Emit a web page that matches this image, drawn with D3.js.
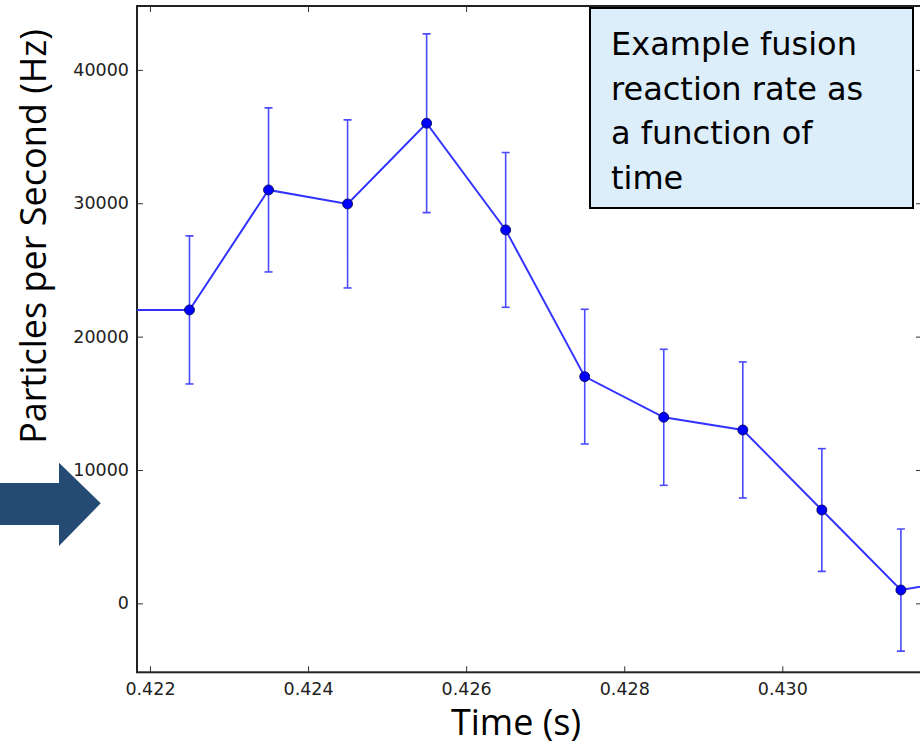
<!DOCTYPE html>
<html>
<head>
<meta charset="utf-8">
<script src="https://cdn.jsdelivr.net/npm/d3@7"></script>
<style>
  html, body { margin: 0; padding: 0; background: #fff; overflow: hidden; }
  svg { display: block; }
</style>
</head>
<body>
<svg id="chart" width="920" height="745"></svg>
<script>
// ---- data ----
const times  = [0.4215, 0.4225, 0.4235, 0.4245, 0.4255, 0.4265, 0.4275, 0.4285, 0.4295, 0.4305, 0.4315, 0.4325];
const rates  = [22000, 22000, 31000, 29950, 36000, 28000, 17000, 13950, 13000, 7000, 1000, 2000];
const errors = [5600, 5550, 6150, 6300, 6700, 5800, 5050, 5100, 5100, 4600, 4580, 4600];
const xTicks = [0.422, 0.424, 0.426, 0.428, 0.430];
const yTicks = [0, 10000, 20000, 30000, 40000];
const xDomain = [0.421836, 0.431767];
const yDomain = [-5170, 44790];
const boxLines = ["Example fusion", "reaction rate as", "a function of", "time"];
const xLabel = "Time (s)";
const yLabel = "Particles per Second (Hz)";

// ---- layout ----
const pLeft = 137, pRight = 922, pTop = 6, pBottom = 672.3;
const svg = d3.select("#chart");

const x = d3.scaleLinear().domain(xDomain).range([pLeft, pRight]);
const y = d3.scaleLinear().domain(yDomain).range([pBottom, pTop]);

// clip
svg.append("defs").append("clipPath").attr("id", "plotclip")
  .append("rect").attr("x", pLeft).attr("y", pTop).attr("width", pRight - pLeft).attr("height", pBottom - pTop);

const tickFont = "'DejaVu Sans', sans-serif";

// axes (inward ticks, matplotlib classic style)
const gx = svg.append("g").attr("transform", `translate(0,${pBottom})`)
  .call(d3.axisBottom(x).tickValues(xTicks).tickFormat(d3.format(".3f"))
        .tickSizeInner(-6).tickSizeOuter(0).tickPadding(10));
const gxTop = svg.append("g").attr("transform", `translate(0,${pTop})`)
  .call(d3.axisTop(x).tickValues(xTicks).tickFormat("")
        .tickSizeInner(-6).tickSizeOuter(0));
const gy = svg.append("g").attr("transform", `translate(${pLeft},0)`)
  .call(d3.axisLeft(y).tickValues(yTicks).tickFormat(d3.format("d"))
        .tickSizeInner(-6).tickSizeOuter(0).tickPadding(8));
const gyR = svg.append("g").attr("transform", `translate(${pRight},0)`)
  .call(d3.axisRight(y).tickValues(yTicks).tickFormat("")
        .tickSizeInner(-6).tickSizeOuter(0));

[gx, gxTop, gy, gyR].forEach(g => {
  g.select(".domain").remove();
  g.selectAll(".tick line").attr("stroke", "#333").attr("stroke-width", 1);
  g.selectAll(".tick text").attr("fill", "#222")
    .style("font-family", tickFont).style("font-size", "17.5px");
});

// frame
svg.append("rect").attr("x", pLeft).attr("y", pTop)
  .attr("width", pRight - pLeft).attr("height", pBottom - pTop)
  .attr("fill", "none").attr("stroke", "#222").attr("stroke-width", 2);

// data layer
const plot = svg.append("g").attr("clip-path", "url(#plotclip)");
const pts = times.map((t, i) => ({ t, v: rates[i], e: errors[i] }));

const eb = plot.append("g").attr("stroke", "#4a4aff").attr("stroke-width", 1.6).attr("fill", "none");
pts.forEach(d => {
  const cx = x(d.t);
  eb.append("line").attr("x1", cx).attr("x2", cx).attr("y1", y(d.v - d.e)).attr("y2", y(d.v + d.e));
  eb.append("line").attr("x1", cx - 4).attr("x2", cx + 4).attr("y1", y(d.v - d.e)).attr("y2", y(d.v - d.e));
  eb.append("line").attr("x1", cx - 4).attr("x2", cx + 4).attr("y1", y(d.v + d.e)).attr("y2", y(d.v + d.e));
});

plot.append("path").datum(pts)
  .attr("d", d3.line().x(d => x(d.t)).y(d => y(d.v)))
  .attr("fill", "none").attr("stroke", "#3333ff").attr("stroke-width", 2);

plot.selectAll("circle").data(pts).join("circle")
  .attr("cx", d => x(d.t)).attr("cy", d => y(d.v)).attr("r", 5)
  .attr("fill", "#0000ff").attr("stroke", "#000040").attr("stroke-width", 0.8);

// axis labels
const labFont = "'Open Sans', sans-serif";
svg.append("text").attr("x", 516).attr("y", 735).attr("text-anchor", "middle")
  .style("font-family", labFont).style("font-size", "36px").attr("fill", "#000").text(xLabel);
svg.append("text").attr("transform", "translate(46,236.5) rotate(-90)").attr("text-anchor", "middle")
  .style("font-family", labFont).style("font-size", "36px").attr("fill", "#000").text(yLabel);

// text box
svg.append("rect").attr("x", 590).attr("y", 8).attr("width", 323).attr("height", 200)
  .attr("fill", "#ddeefb").attr("stroke", "#000").attr("stroke-width", 2);
const bt = svg.append("text").style("font-family", "'DejaVu Sans', sans-serif")
  .style("font-size", "32px").attr("fill", "#000");
boxLines.forEach((s, i) => {
  bt.append("tspan").attr("x", 611).attr("y", 55 + i * 44.5).text(s);
});

// arrow
svg.append("path")
  .attr("d", "M0,483 L59,483 L59,462.7 L100.7,503.3 L59,546 L59,525 L0,525 Z")
  .attr("fill", "#254a73");
</script>
</body>
</html>
